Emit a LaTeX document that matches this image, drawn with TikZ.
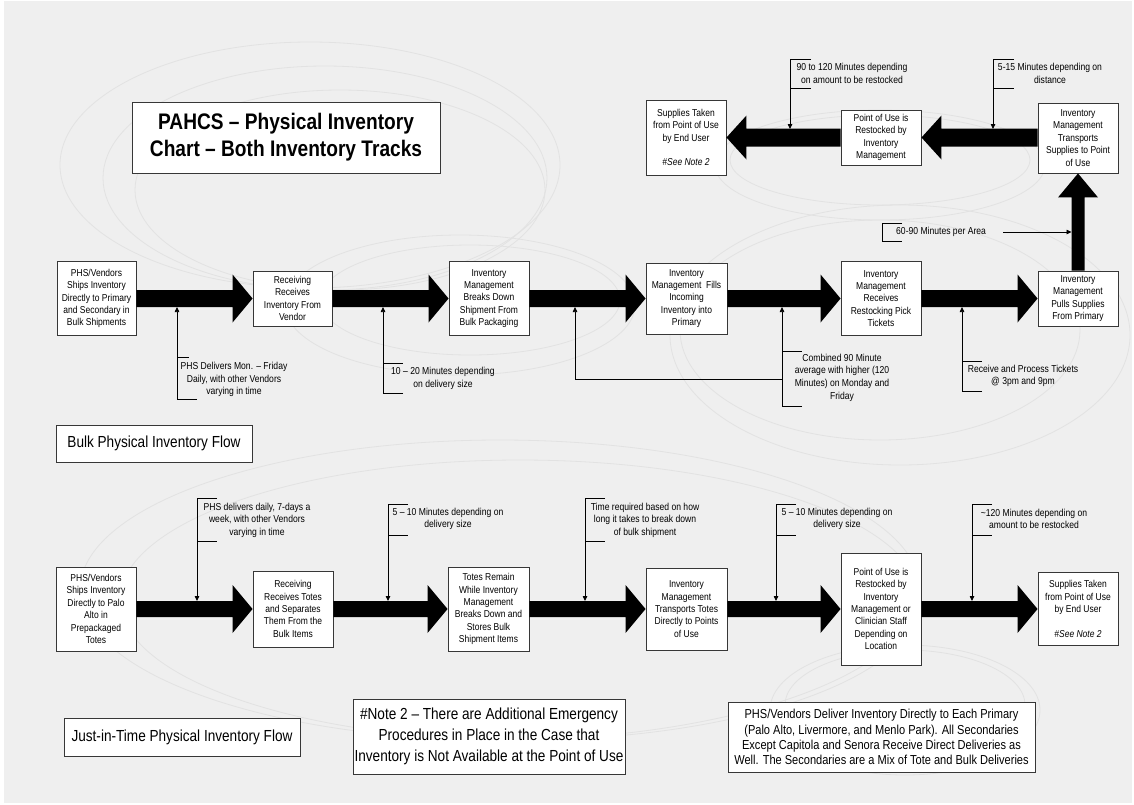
\documentclass[tikz,border=0pt]{standalone}
\usepackage{fontspec}
\setmainfont{Liberation Sans}[FakeStretch=0.85]
\usetikzlibrary{arrows.meta,calc}
\definecolor{bggray}{RGB}{239,239,239}
\definecolor{decor}{RGB}{226,226,226}
\definecolor{edge}{RGB}{55,55,55}
\newcommand\boxfnt{\fontsize{10}{12.4}\selectfont}
\newcommand\calfnt{\fontsize{10.1}{12.6}\selectfont}
\newcommand\labfnt{\fontsize{16}{19}\selectfont}
\newcommand\notefnt{\fontsize{16}{21}\selectfont}
\newcommand\infofnt{\fontsize{13}{15.3}\selectfont}
\newcommand\ttlfnt{\fontsize{22.5}{27}\selectfont\bfseries}
% thick flow arrow, left to right: from node #1 to node #2, half shaft #3, half head #4
\newcommand\flowR[4]{\fill let \p1=(#1.east), \p2=(#2.west) in
  (\x1,\y2+#3) -- (\x2-20pt,\y2+#3) -- (\x2-20pt,\y2+#4) -- (\x2,\y2)
  -- (\x2-20pt,\y2-#4) -- (\x2-20pt,\y2-#3) -- (\x1,\y2-#3) -- cycle;}
\newcommand\flowL[4]{\fill let \p1=(#1.west), \p2=(#2.east) in
  (\x1,\y2+#3) -- (\x2+20pt,\y2+#3) -- (\x2+20pt,\y2+#4) -- (\x2,\y2)
  -- (\x2+20pt,\y2-#4) -- (\x2+20pt,\y2-#3) -- (\x1,\y2-#3) -- cycle;}
\newcommand\flowU[4]{\fill let \p1=(#1.north), \p2=(#2.south) in
  (\x2-#3,\y1) -- (\x2-#3,\y2-24pt) -- (\x2-#4,\y2-24pt) -- (\x2,\y2)
  -- (\x2+#4,\y2-24pt) -- (\x2+#3,\y2-24pt) -- (\x2+#3,\y1) -- cycle;}
\begin{document}
\begin{tikzpicture}[x=1pt,y=-1pt,
  box/.style={draw=edge,line width=0.9pt,fill=white,align=center,inner sep=0pt,font=\boxfnt},
  bx/.style 2 args={minimum width=#1pt,minimum height=#2pt},
  lbl/.style={draw=edge,line width=0.9pt,fill=white,align=center,inner sep=0pt},
  cal/.style={align=center,inner sep=0pt,font=\calfnt},
  cl/.style={line width=0.75pt,draw=black},
  ctip/.style={-{Triangle[length=5pt,width=4.5pt]}},
  deco/.style={draw=decor,line width=0.8pt}]
\useasboundingbox (0,0) rectangle (1134,804);
\fill[white] (0,0) rectangle (1134,804);
\fill[bggray] (4,1) rectangle (1132,803);
% faint background rings
\draw[deco] (310,165) ellipse [x radius=250pt,y radius=123pt];
\draw[deco] (325,178) ellipse [x radius=222pt,y radius=112pt];
\draw[deco] (340,190) ellipse [x radius=205pt,y radius=100pt];
\draw[deco] (880,165) ellipse [x radius=165pt,y radius=55pt];
\draw[deco] (880,160) ellipse [x radius=150pt,y radius=45pt];
\draw[deco] (470,300) ellipse [x radius=150pt,y radius=55pt];
\draw[deco] (460,305) ellipse [x radius=175pt,y radius=70pt];
\draw[deco] (880,330) ellipse [x radius=200pt,y radius=110pt];
\draw[deco] (900,335) ellipse [x radius=230pt,y radius=130pt];
\draw[deco] (500,590) ellipse [x radius=420pt,y radius=150pt];
\draw[deco] (520,600) ellipse [x radius=400pt,y radius=140pt];
\draw[deco] (905,705) ellipse [x radius=120pt,y radius=55pt];
\draw[deco] (905,710) ellipse [x radius=135pt,y radius=65pt];

% title
\node[lbl,bx={308}{71},font=\ttlfnt] (title) at (286,137.5) {PAHCS – Physical Inventory\\Chart – Both Inventory Tracks};

% top row
\node[box,bx={80}{75}] (sup1) at (686,137.5) {Supplies Taken\\from Point of Use\\by End User\\\mbox{}\\\textit{\#See Note 2}};
\node[box,bx={80}{55}] (pou1) at (881,137.5) {Point of Use is\\Restocked by\\Inventory\\Management};
\node[box,bx={80}{70}] (trans) at (1078,138) {Inventory\\Management\\Transports\\Supplies to Point\\of Use};

% bulk row
\node[box,bx={79}{74}] (b1) at (96.5,298.5) {PHS/Vendors\\Ships Inventory\\Directly to Primary\\and Secondary in\\Bulk Shipments};
\node[box,bx={79}{55}] (b2) at (292.5,298.5) {Receiving\\Receives\\Inventory From\\Vendor};
\node[box,bx={80}{74}] (b3) at (489,298.5) {Inventory\\Management\\Breaks Down\\Shipment From\\Bulk Packaging};
\node[box,bx={81}{71}] (b4) at (686.5,298.5) {Inventory\\Management~ Fills\\Incoming\\Inventory into\\Primary};
\node[box,bx={80}{74}] (b5) at (881,298.5) {Inventory\\Management\\Receives\\Restocking Pick\\Tickets};
\node[box,bx={80}{55}] (b6) at (1078,298.5) {Inventory\\Management\\Pulls Supplies\\From Primary};
\node[lbl,bx={196}{37},font=\labfnt] (bulk) at (154,443.5) {Bulk Physical Inventory Flow};

% just-in-time row
\node[box,bx={80}{84}] (j1) at (96,609) {PHS/Vendors\\Ships Inventory\\Directly to Palo\\Alto in\\Prepackaged\\Totes};
\node[box,bx={80}{76}] (j2) at (293,609) {Receiving\\Receives Totes\\and Separates\\Them From the\\Bulk Items};
\node[box,bx={81}{84}] (j3) at (488.5,609) {Totes Remain\\While Inventory\\Management\\Breaks Down and\\Stores Bulk\\Shipment Items};
\node[box,bx={81}{82}] (j4) at (686.5,609) {Inventory\\Management\\Transports Totes\\Directly to Points\\of Use};
\node[box,bx={80}{112}] (j5) at (881,609) {Point of Use is\\Restocked by\\Inventory\\Management or\\Clinician Staff\\Depending on\\Location};
\node[box,bx={80}{73}] (j6) at (1078,609) {Supplies Taken\\from Point of Use\\by End User\\\mbox{}\\\textit{\#See Note 2}};
\node[lbl,bx={236}{38},font=\labfnt] (jit) at (182,737) {Just-in-Time Physical Inventory Flow};

% notes
\node[lbl,bx={272}{75},font=\notefnt] (note) at (489,736.5) {\#Note 2 – There are Additional Emergency\\Procedures in Place in the Case that\\Inventory is Not Available at the Point of Use};
\node[lbl,bx={307}{70},font=\infofnt] (info) at (881.5,737) {PHS/Vendors Deliver Inventory Directly to Each Primary\\(Palo Alto, Livermore, and Menlo Park). All Secondaries\\Except Capitola and Senora Receive Direct Deliveries as\\Well. The Secondaries are a Mix of Tote and Bulk Deliveries};

% thick flow arrows
\flowL{trans}{pou1}{9pt}{22pt}
\flowL{pou1}{sup1}{9pt}{22pt}
\flowR{b1}{b2}{8.5pt}{24pt}
\flowR{b2}{b3}{8.5pt}{24pt}
\flowR{b3}{b4}{8.5pt}{24pt}
\flowR{b4}{b5}{8.5pt}{24pt}
\flowR{b5}{b6}{8.5pt}{24pt}
\flowU{b6}{trans}{6.5pt}{20pt}
\flowR{j1}{j2}{8pt}{24pt}
\flowR{j2}{j3}{8pt}{24pt}
\flowR{j3}{j4}{8pt}{24pt}
\flowR{j4}{j5}{8pt}{24pt}
\flowR{j5}{j6}{8pt}{24pt}

% ---- callouts, top row (arrows down onto shaft top y=129)
\coordinate (t1a) at (790,59);  \coordinate (t1b) at (790,88);  \coordinate (t1t) at (790,129);
\coordinate (t2a) at (993,59);  \coordinate (t2b) at (993,88);  \coordinate (t2t) at (993,129);
\draw[cl,ctip] ([xshift=21pt]t1a) -- (t1a) -- (t1t);
\draw[cl] (t1b) -- ([xshift=21pt]t1b);
\draw[cl,ctip] ([xshift=21pt]t2a) -- (t2a) -- (t2t);
\draw[cl] (t2b) -- ([xshift=21pt]t2b);
\node[cal] (t1) at (852,73.5) {90 to 120 Minutes depending\\on amount to be restocked};
\node[cal] (t2) at (1050,73.5) {5-15 Minutes depending on\\distance};

% ---- 60-90 callout
\coordinate (s1a) at (882,223); \coordinate (s1b) at (882,241);
\coordinate (s1s) at (1003,232); \coordinate (s1t) at (1071.5,232);
\draw[cl] ([xshift=20pt]s1a) -- (s1a) -- (s1b) -- ([xshift=20pt]s1b);
\node[cal,anchor=west] (s1) at (896,232) {60-90 Minutes per Area};
\draw[cl,ctip] (s1s) -- (s1t);

% ---- callouts, bulk row (arrows up onto shaft bottom y=307)
\coordinate (c1a) at (177,399); \coordinate (c1b) at (177,357); \coordinate (c1t) at (177,307);
\draw[cl,ctip] ([xshift=20pt]c1a) -- (c1a) -- (c1t);
\draw[cl] (c1b) -- ([xshift=12pt]c1b);
\node[cal] (c1) at (234,379.5) {PHS Delivers Mon. – Friday\\Daily, with other Vendors\\varying in time};

\coordinate (c2a) at (383,393); \coordinate (c2b) at (383,363); \coordinate (c2t) at (383,307);
\draw[cl,ctip] ([xshift=20pt]c2a) -- (c2a) -- (c2t);
\draw[cl] (c2b) -- ([xshift=20pt]c2b);
\node[cal] (c2) at (443,378.5) {10 – 20 Minutes depending\\on delivery size};

\coordinate (c3a) at (575,379); \coordinate (c3t) at (575,307);
\coordinate (c3j) at (782,379); \coordinate (c3b) at (782,406); \coordinate (c3c) at (782,351);
\coordinate (c3u) at (782,307);
\draw[cl,ctip] (c3j) -- (c3a) -- (c3t);
\draw[cl,ctip] ([xshift=20pt]c3b) -- (c3b) -- (c3u);
\draw[cl] (c3c) -- ([xshift=20pt]c3c);
\node[cal] (c3) at (842,377.5) {Combined 90 Minute\\average with higher (120\\Minutes) on Monday and\\Friday};

\coordinate (c4a) at (962,391); \coordinate (c4b) at (962,361); \coordinate (c4t) at (962,307);
\draw[cl,ctip] ([xshift=20pt]c4a) -- (c4a) -- (c4t);
\draw[cl] (c4b) -- ([xshift=20pt]c4b);
\node[cal] (c4) at (1023,376) {Receive and Process Tickets\\@ 3pm and 9pm};

% ---- callouts, just-in-time row (arrows down onto shaft top y=601)
\coordinate (r1a) at (197,498); \coordinate (r1b) at (197,541); \coordinate (r1t) at (197,601);
\draw[cl,ctip] ([xshift=20pt]r1a) -- (r1a) -- (r1t);
\draw[cl] (r1b) -- ([xshift=20pt]r1b);
\node[cal] (r1) at (257,520) {PHS delivers daily, 7-days a\\week, with other Vendors\\varying in time};

\coordinate (r2a) at (388,504); \coordinate (r2b) at (388,535); \coordinate (r2t) at (388,601);
\draw[cl,ctip] ([xshift=20pt]r2a) -- (r2a) -- (r2t);
\draw[cl] (r2b) -- ([xshift=20pt]r2b);
\node[cal] (r2) at (448,519) {5 – 10 Minutes depending on\\delivery size};

\coordinate (r3a) at (585,498); \coordinate (r3b) at (585,541); \coordinate (r3t) at (585,601);
\draw[cl,ctip] ([xshift=20pt]r3a) -- (r3a) -- (r3t);
\draw[cl] (r3b) -- ([xshift=20pt]r3b);
\node[cal] (r3) at (645,520) {Time required based on how\\long it takes to break down\\of bulk shipment};

\coordinate (r4a) at (776,504); \coordinate (r4b) at (776,535); \coordinate (r4t) at (776,601);
\draw[cl,ctip] ([xshift=20pt]r4a) -- (r4a) -- (r4t);
\draw[cl] (r4b) -- ([xshift=20pt]r4b);
\node[cal] (r4) at (837,519) {5 – 10 Minutes depending on\\delivery size};

\coordinate (r5a) at (972,504); \coordinate (r5b) at (972,535); \coordinate (r5t) at (972,601);
\draw[cl,ctip] ([xshift=20pt]r5a) -- (r5a) -- (r5t);
\draw[cl] (r5b) -- ([xshift=20pt]r5b);
\node[cal] (r5) at (1034,519) {\textasciitilde120 Minutes depending on\\amount to be restocked};
\end{tikzpicture}
\end{document}
